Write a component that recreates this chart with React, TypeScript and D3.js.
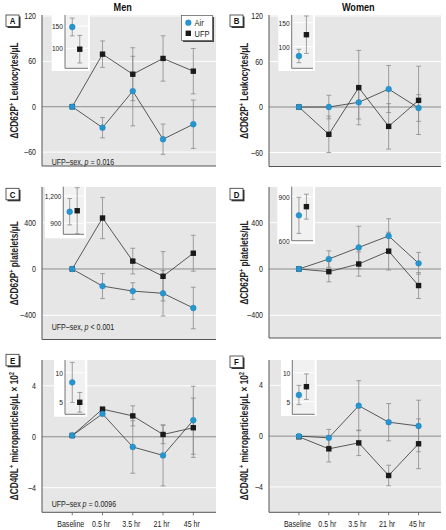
import React from "react";
import * as d3 from "d3";

const categories = ["Baseline", "0.5 hr", "3.5 hr", "21 hr", "45 hr"];

// Panel A: Men, CD62P+ leukocytes
const airA = [0, -27.7, 20.7, -43, -23.2];
const airAErr = [0, 13.5, 46, 20, 32];
const ufpA = [0, 69.5, 43, 63.8, 47];
const ufpAErr = [0, 17.5, 35, 30, 30];
const insetA = { air: 148, airErr: 20, ufp: 98, ufpErr: 31 };

// Panel B: Women, CD62P+ leukocytes
const airB = [0, 0, 6.2, 23.7, -1.3];
const airBErr = [0, 15.5, 22, 31, 17.6];
const ufpB = [0, -36, 25.6, -25.5, 8.8];
const ufpBErr = [0, 24, 49, 30, 45];
const insetB = { air: 80.6, airErr: 14, ufp: 125, ufpErr: 39 };

// Panel C: Men, CD62P+ platelets
const airC = [0, -148, -191, -210, -337];
const airCErr = [0, 108, 72, 196, 179];
const ufpC = [0, 440, 68, -63, 136];
const ufpCErr = [0, 178, 111, 213, 155];
const insetC = { air: 1027, airErr: 145, ufp: 1038, ufpErr: 253 };

// Panel D: Women, CD62P+ platelets
const airD = [0, 86, 186, 285, 49];
const airDErr = [0, 71, 183, 149, 94];
const ufpD = [0, -23, 43, 154, -143];
const ufpDErr = [0, 88, 105, 163, 112];
const insetD = { air: 773, airErr: 123, ufp: 832, ufpErr: 85 };

// Panel E: Men, CD40L+ microparticles
const airE = [0.1, 1.8, -0.8, -1.46, 1.3];
const airEErr = [0, 0.15, 2.06, 2.4, 2.67];
const ufpE = [0.1, 2.17, 1.64, 0.18, 0.71];
const ufpEErr = [0, 0.15, 0.79, 0.72, 2.33];
const insetE = { air: 8.34, airErr: 3.45, ufp: 4.9, ufpErr: 1.7 };

// Panel F: Women, CD40L+ microparticles
const airF = [0, -0.13, 2.4, 1.1, 0.8];
const airFErr = [0, 0.66, 1.97, 1.47, 2.03];
const ufpF = [-0.05, -1.0, -0.53, -3.1, -0.6];
const ufpFErr = [0, 1.03, 1.0, 0.81, 1.96];
const insetF = { air: 6.16, airErr: 1.66, ufp: 7.6, ufpErr: 2.2 };

const ticksLeuko = [120, 60, 0, -60];
const ticksPlate = [400, 0, -400];
const ticksMicro = [4, 0, -4];
const insetTicksLeuko = [150, 100];
const insetTicksPlateMen = [1200, 900];
const insetTicksPlateWomen = [900, 600];
const insetTicksMicro = [10, 5];

const FONT = "'Liberation Sans',Arial,sans-serif";
const SX = 0.83;
const BLUE = "#2596cf";
const BG = "#e6e6e6";

const fmt = (v: number) => {
  const s = d3.format(",")(Math.abs(v));
  return v < 0 ? "\u2013" + s : s;
};

function T({ x, y, rotate, children, ...rest }: any) {
  return (
    <text
      transform={`translate(${x},${y})${rotate ? ` rotate(${rotate})` : ""} scale(${SX},1)`}
      fontFamily={FONT}
      fill="#222"
      {...rest}
    >
      {children}
    </text>
  );
}

type Inset = { air: number; airErr: number; ufp: number; ufpErr: number };

type PanelProps = {
  letter: string;
  letterBox: [number, number];
  left: number; top: number; right: number; bottom: number;
  domain: [number, number];
  ticks: number[];
  air: number[]; airErr: number[]; ufp: number[]; ufpErr: number[];
  inset: Inset;
  insetBox: { x0: number; y0: number; x1: number; y1: number; axisX: number; axisY: number; domain: [number, number]; ticks: number[]; airX?: number };
  labelX: number;
  labelMain: string;
  labelTail: string;
  labelSup2?: boolean;
  note?: React.ReactNode;
  xLabels?: boolean;
  legend?: boolean;
};

function ErrBar({ x, y1, y2 }: { x: number; y1: number; y2: number }) {
  const c = 2.4;
  return (
    <g stroke="#8a8a8a" strokeWidth={0.8}>
      <line x1={x} x2={x} y1={y1} y2={y2} />
      <line x1={x - c} x2={x + c} y1={y1} y2={y1} />
      <line x1={x - c} x2={x + c} y1={y2} y2={y2} />
    </g>
  );
}

function Square({ x, y }: { x: number; y: number }) {
  const s = 5.4;
  return <rect x={x - s / 2} y={y - s / 2} width={s} height={s} fill="#1a1a1a" />;
}
function Dot({ x, y }: { x: number; y: number }) {
  return <circle cx={x} cy={y} r={2.9} fill={BLUE} stroke="#1d7fb3" strokeWidth={0.4} />;
}

function Panel(p: PanelProps) {
  const x = d3.scaleLinear().domain([-1, 4.75]).range([p.left, p.right]);
  const y = d3.scaleLinear().domain(p.domain).range([p.bottom, p.top]);
  const line = d3.line<number>().x((_, i) => x(i)).y((d) => y(d));
  const ib = p.insetBox;
  const iy = d3.scaleLinear().domain(ib.domain).range([ib.axisY, ib.y0]);
  const airX = ib.airX ?? x(0);
  const ufpX = airX + 7.5;
  const midY = (p.top + p.bottom) / 2;
  return (
    <g>
      <rect x={p.left} y={p.top} width={p.right - p.left} height={p.bottom - p.top} fill={BG} />
      {p.ticks.filter((t) => t !== 0).map((t) => (
        <line key={t} x1={p.left} x2={p.right} y1={y(t)} y2={y(t)} stroke="#fff" strokeWidth={1} />
      ))}
      <line x1={p.left} x2={p.right} y1={y(0)} y2={y(0)} stroke="#8c8c8c" strokeWidth={1} />
      <line x1={p.left} x2={p.left} y1={p.top} y2={p.bottom} stroke="#555" strokeWidth={1} />
      <line x1={p.left} x2={p.right} y1={p.bottom} y2={p.bottom} stroke="#555" strokeWidth={1} />
      {p.ticks.map((t) => (
        <T key={t} x={p.left - 6} y={y(t) + 3} fontSize={8.5} textAnchor="end">{fmt(t)}</T>
      ))}
      {/* inset */}
      <rect x={ib.x0} y={ib.y0} width={ib.x1 - ib.x0} height={ib.y1 - ib.y0} fill="#fff" />
      <rect x={ib.axisX} y={ib.y0} width={ib.x1 - 2 - ib.axisX} height={ib.axisY - ib.y0} fill="#f1f1f1" />
      {ib.ticks.map((t) => (
        <g key={t}>
          <line x1={ib.axisX} x2={ib.x1 - 2} y1={iy(t)} y2={iy(t)} stroke="#fff" strokeWidth={1} />
          <T x={ib.axisX - 2} y={iy(t) + 3} fontSize={8} textAnchor="end">{fmt(t)}</T>
        </g>
      ))}
      <line x1={ib.axisX} x2={ib.axisX} y1={ib.y0} y2={ib.axisY} stroke="#666" strokeWidth={0.9} />
      <line x1={ib.axisX} x2={ib.x1 - 2} y1={ib.axisY} y2={ib.axisY} stroke="#666" strokeWidth={0.9} />
      <ErrBar x={airX} y1={iy(p.inset.air + p.inset.airErr)} y2={iy(p.inset.air - p.inset.airErr)} />
      <ErrBar x={ufpX} y1={iy(p.inset.ufp + p.inset.ufpErr)} y2={iy(p.inset.ufp - p.inset.ufpErr)} />
      <Dot x={airX} y={iy(p.inset.air)} />
      <Square x={ufpX} y={iy(p.inset.ufp)} />
      {/* error bars */}
      {p.air.map((v, i) => p.airErr[i] > 0 ? <ErrBar key={"ae" + i} x={x(i)} y1={y(v + p.airErr[i])} y2={y(v - p.airErr[i])} /> : null)}
      {p.ufp.map((v, i) => p.ufpErr[i] > 0 ? <ErrBar key={"ue" + i} x={x(i)} y1={y(v + p.ufpErr[i])} y2={y(v - p.ufpErr[i])} /> : null)}
      <path d={line(p.air) || ""} fill="none" stroke="#333" strokeWidth={0.8} />
      <path d={line(p.ufp) || ""} fill="none" stroke="#333" strokeWidth={0.8} />
      {p.ufp.map((v, i) => <Square key={"us" + i} x={x(i)} y={y(v)} />)}
      {p.air.map((v, i) => <Dot key={"ad" + i} x={x(i)} y={y(v)} />)}
      {/* letter box */}
      <rect x={p.letterBox[0] + 1.5} y={p.letterBox[1] + 1.5} width={13} height={11.5} fill="#333" />
      <rect x={p.letterBox[0]} y={p.letterBox[1]} width={13} height={11.5} fill="#fff" stroke="#333" strokeWidth={0.8} />
      <T x={p.letterBox[0] + 6.5} y={p.letterBox[1] + 9.2} fontSize={9.5} fontWeight="bold" textAnchor="middle" fill="#111">{p.letter}</T>
      {/* y label */}
      <T x={p.labelX} y={midY} rotate={-90} textAnchor="middle" fontSize={10} fontWeight="bold">
        {p.labelMain}
        <tspan fontSize={6.5} dy={-3.5}>+</tspan>
        <tspan dy={3.5}>{p.labelTail}</tspan>
        {p.labelSup2 ? <tspan fontSize={6.5} dy={-3.5}>2</tspan> : null}
      </T>
      {p.note}
      {p.xLabels && categories.map((c, i) => (
        <g key={c}>
          <line x1={x(i)} x2={x(i)} y1={p.bottom} y2={p.bottom + 3} stroke="#555" strokeWidth={0.8} />
          <T x={x(i) - 1.5} y={p.bottom + 14.5} fontSize={8.5} textAnchor="middle">{c}</T>
        </g>
      ))}
      {p.legend && (
        <g>
          <rect x={183} y={17} width={31} height={25} fill="#444" />
          <rect x={181.5} y={15.5} width={31} height={25} fill="#fff" stroke="#555" strokeWidth={0.7} />
          <Dot x={188.3} y={22.7} />
          <T x={194.5} y={25.7} fontSize={9}>Air</T>
          <Square x={188.3} y={33.3} />
          <T x={194.5} y={36.5} fontSize={9}>UFP</T>
        </g>
      )}
    </g>
  );
}

export default function App() {
  const leftCol = { left: 42, right: 216, labelX: 17.5 };
  const rightCol = { left: 269, right: 441, labelX: 247.5 };
  return (
    <svg width={446} height={530} style={{ display: "block", position: "absolute", left: 0, top: 0 }}>
      <rect width={446} height={530} fill="#fff" />
      <T x={122.7} y={11} fontSize={11} fontWeight="bold" textAnchor="middle" fill="#111">Men</T>
      <T x={358.3} y={11} fontSize={11} fontWeight="bold" textAnchor="middle" fill="#111">Women</T>
      <Panel letter="A" letterBox={[6, 15]} {...leftCol} top={15} bottom={166} domain={[-78.4, 121.3]} ticks={ticksLeuko}
        air={airA} airErr={airAErr} ufp={ufpA} ufpErr={ufpAErr} inset={insetA}
        insetBox={{ x0: 51.7, y0: 15, x1: 90, y1: 71, axisX: 65, axisY: 68.3, domain: [55, 175], ticks: insetTicksLeuko }}
        labelMain={"\u0394CD62P"} labelTail={" Leukocytes/\u03bcL"} legend
        note={<T x={51.7} y={164.5} fontSize={8.5}>UFP–sex, <tspan fontStyle="italic">p</tspan> = 0.016</T>} />
      <Panel letter="B" letterBox={[230, 15]} {...rightCol} top={15} bottom={166.5} domain={[-78.4, 121.3]} ticks={ticksLeuko}
        air={airB} airErr={airBErr} ufp={ufpB} ufpErr={ufpBErr} inset={insetB}
        insetBox={{ x0: 278.3, y0: 15, x1: 315, y1: 71, axisX: 291.7, axisY: 68.3, domain: [55, 166], ticks: insetTicksLeuko }}
        labelMain={"\u0394CD62P"} labelTail={" Leukocytes/\u03bcL"} />
      <Panel letter="C" letterBox={[6, 188.3]} {...leftCol} top={187} bottom={339.5} domain={[-609, 708]} ticks={ticksPlate}
        air={airC} airErr={airCErr} ufp={ufpC} ufpErr={ufpCErr} inset={insetC}
        insetBox={{ x0: 45, y0: 186.7, x1: 86, y1: 238.3, axisX: 63.3, axisY: 234.3, domain: [779, 1302], ticks: insetTicksPlateMen, airX: 69.7 }}
        labelMain={"\u0394CD62P"} labelTail={" platelets/\u03bcL"}
        note={<T x={51.7} y={329.5} fontSize={8.5}>UFP–sex, <tspan fontStyle="italic">p</tspan> {"<"} 0.001</T>} />
      <Panel letter="D" letterBox={[230, 188.3]} {...rightCol} top={187} bottom={338} domain={[-596, 708]} ticks={ticksPlate}
        air={airD} airErr={airDErr} ufp={ufpD} ufpErr={ufpDErr} inset={insetD}
        insetBox={{ x0: 277.3, y0: 186.7, x1: 315, y1: 244, axisX: 291.7, axisY: 240.7, domain: [600, 968], ticks: insetTicksPlateWomen }}
        labelMain={"\u0394CD62P"} labelTail={" platelets/\u03bcL"} />
      <Panel letter="E" letterBox={[6, 354.3]} {...leftCol} top={360} bottom={512.3} domain={[-5.93, 6.03]} ticks={ticksMicro}
        air={airE} airErr={airEErr} ufp={ufpE} ufpErr={ufpEErr} inset={insetE}
        insetBox={{ x0: 54, y0: 360, x1: 87.3, y1: 416.7, axisX: 65, axisY: 414.3, domain: [2.83, 12.2], ticks: insetTicksMicro }}
        labelMain={"\u0394CD40L"} labelTail={" microparticles/\u03bcL \u00d7 10"} labelSup2 xLabels
        note={<T x={51.7} y={507} fontSize={8.5}>UFP–sex <tspan fontStyle="italic">p</tspan> = 0.0096</T>} />
      <Panel letter="F" letterBox={[230, 356]} {...rightCol} top={360} bottom={512.3} domain={[-6.0, 6.0]} ticks={ticksMicro}
        air={airF} airErr={airFErr} ufp={ufpF} ufpErr={ufpFErr} inset={insetF}
        insetBox={{ x0: 281, y0: 360, x1: 316.7, y1: 416, axisX: 292.3, axisY: 414.3, domain: [2.83, 12.2], ticks: insetTicksMicro }}
        labelMain={"\u0394CD40L"} labelTail={" microparticles/\u03bcL \u00d7 10"} labelSup2 xLabels />
    </svg>
  );
}
